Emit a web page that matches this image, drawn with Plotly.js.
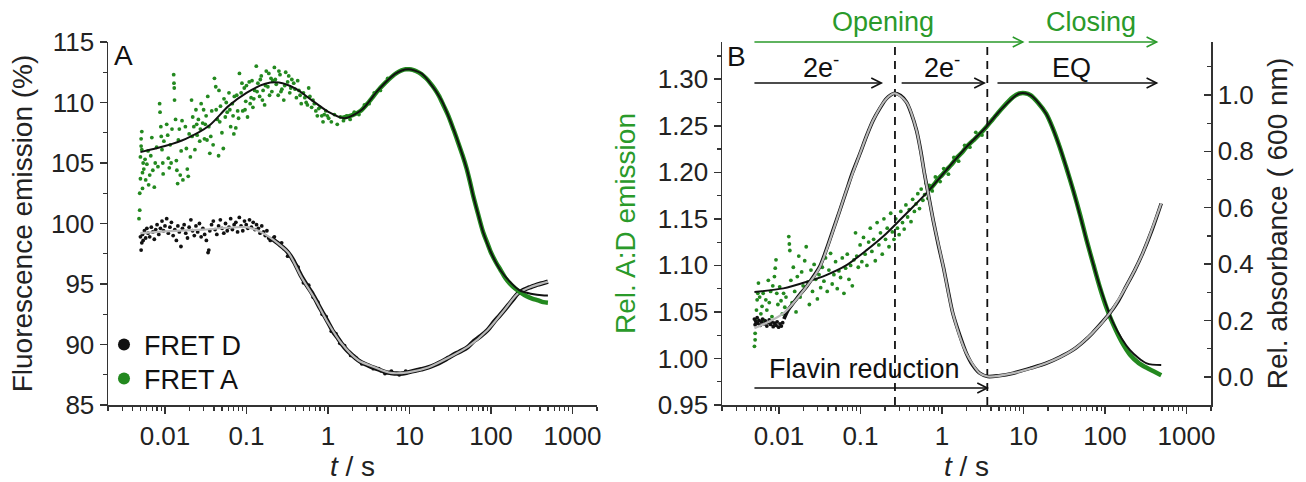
<!DOCTYPE html>
<html><head><meta charset="utf-8">
<script src="https://cdn.plot.ly/plotly-3.0.1.min.js"></script>
<style>html,body{margin:0;padding:0;background:#fff}#chart{width:1306px;height:482px}</style>
</head><body><div id="chart"></div>
<script>
// ---------- DATA (t in s) ----------
// Panel A: FRET A (acceptor) emission, %, noisy early part
const fretA_early = [
[0.0048,100.4],[0.0049,101.1],[0.0049,102.5],[0.0050,103.7],[0.0050,105.5],[0.0051,106.4],[0.0051,107.0],[0.0052,107.6],[0.0052,106.1],[0.0053,104.2],[0.0053,102.9],[0.0054,105.0],
[0.0055,104.5],[0.0057,105.3],[0.0058,103.6],[0.0060,104.9],[0.0062,106.0],[0.0063,103.2],[0.0065,104.0],[0.0067,105.6],[0.0069,107.1],[0.0071,104.4],[0.0074,103.0],[0.0076,105.0],[0.0079,106.3],[0.0082,104.7],
[0.0086,109.9],[0.0087,109.2],[0.0089,108.0],[0.0090,107.2],[0.0092,106.1],[0.0094,105.0],[0.0095,104.1],[0.0097,106.8],
[0.0105,108.2],[0.0108,107.3],[0.0110,105.4],[0.0113,104.6],[0.0116,106.5],[0.0119,105.0],[0.0122,107.8],
[0.0128,112.3],[0.0129,111.6],[0.0130,111.2],[0.0131,110.2],
[0.0135,108.6],[0.0138,105.2],[0.0140,104.4],[0.0143,103.3],[0.0146,106.9],[0.0150,107.8],[0.0154,104.0],[0.0158,106.0],[0.0162,108.5],[0.0166,103.6],
[0.0178,108.0],[0.0183,106.2],[0.0188,104.5],[0.0193,103.9],[0.0198,107.4],[0.0205,105.5],
[0.0212,110.2],[0.0219,108.8],[0.0226,108.0],[0.0233,106.1],[0.0240,109.4],[0.0248,107.3],[0.0257,108.6],[0.0267,106.8],[0.0278,109.9],[0.0290,108.3],[0.0305,107.0],[0.0320,108.9],
[0.0215,107.2],[0.0245,108.2],[0.0272,107.8],[0.0298,109.4],[0.0312,108.2],[0.0328,106.9],
[0.0335,110.5],[0.0345,108.0],[0.0355,105.8],[0.0365,107.2],[0.0375,109.3],[0.0390,106.5],[0.0405,112.0],[0.0420,111.3],[0.0440,108.6],[0.0425,109.4],
[0.0455,105.6],[0.046,111.0],[0.048,109.7],[0.050,107.5],[0.052,106.2],[0.053,110.3],[0.055,108.8],[0.058,109.2],[0.061,110.8],[0.064,108.0],[0.067,109.9],[0.070,107.4],[0.071,110.5],[0.074,107.9],[0.078,109.3],
[0.047,108.4],[0.0565,110.0],[0.0625,109.4],[0.0685,108.9],[0.076,110.6],[0.080,108.7],
[0.082,112.4],[0.086,110.8],[0.090,109.3],[0.094,111.2],[0.098,110.1],[0.103,108.8],[0.108,111.7],[0.114,110.4],[0.120,109.6],[0.126,111.0],
[0.088,111.6],[0.096,109.4],[0.100,111.4],[0.111,109.9],[0.117,111.8],[0.123,110.3],
[0.132,113.0],[0.138,111.6],[0.145,110.5],[0.152,112.2],[0.160,111.0],[0.167,109.8],[0.175,112.6],[0.183,111.3],[0.192,110.6],[0.200,112.0],[0.210,111.8],
[0.135,110.9],[0.148,111.9],[0.157,110.2],[0.171,111.4],[0.188,112.4],[0.205,110.9],
[0.220,112.9],[0.232,111.5],[0.245,110.6],[0.258,112.3],[0.272,111.1],[0.287,110.2],[0.303,112.5],[0.320,111.7],[0.340,110.8],[0.360,111.9],
[0.226,111.9],[0.250,112.6],[0.265,110.9],[0.295,111.4],[0.330,112.2],[0.350,111.2],
[0.38,111.6],[0.41,110.4],[0.44,111.0],[0.47,109.9],[0.50,110.8],[0.54,110.0],[0.58,111.2],[0.63,109.6],
[0.395,111.1],[0.425,111.8],[0.455,110.6],[0.52,110.4],[0.56,109.8],[0.60,110.5],[0.655,110.2],
[0.68,109.9],[0.74,108.9],[0.80,109.6],[0.87,108.4],[0.94,109.3],[1.02,108.7],
[0.71,109.3],[0.77,109.5],[0.84,108.9],[0.90,109.0],[0.98,108.9],
[1.10,108.4],[1.20,109.0],[1.30,108.2],[1.42,108.8],[1.55,108.5],[1.70,108.9],[1.87,108.6],
[2.1,109.2],[2.4,109.0],[2.8,109.8],[3.2,109.9],[3.7,110.8],[4.4,111.0],[5.4,112.0]
];
// FRET A, later (low-noise) part
const fretA_late = [
[1.5,108.72],[2.0,108.95],[2.5,109.3],[3.0,109.85],[3.5,110.4],[4.0,110.9],[5.0,111.6],[6.0,112.1],[7.0,112.45],[8.0,112.65],[9.0,112.75],[10,112.75],[11,112.7],[12,112.6],[14,112.35],[16,112.0],[18,111.6],[20,111.2],[23,110.55],[26,109.8],[30,108.9],[35,107.7],[40,106.6],[45,105.6],[50,104.6],[55,103.5],[60,102.4],[70,100.7],[80,99.3],[90,98.4],[100,97.6],[115,96.8],[130,96.2],[150,95.5],[170,95.05],[200,94.6],[230,94.3],[270,94.0],[320,93.8],[380,93.65],[440,93.5],[500,93.45]
];
// FRET A fit
const fitA = [
[0.005,105.9],[0.01,106.4],[0.018,107.0],[0.035,108.1],[0.06,109.7],[0.1,110.8],[0.17,111.55],[0.25,111.65],[0.4,111.15],[0.63,110.2],[1.0,109.25],[1.6,108.7],[2.6,109.4],[4.1,111.0],[6.6,112.35],[9.6,112.75],[14,112.4],[17,111.8],[24.6,110.2],[36,107.5],[45,105.6],[52,104.2],[60,102.4],[70,100.7],[80,99.3],[100,97.6],[132,96.1],[176,95.1],[222,94.5],[307,94.2],[450,94.05],[500,94.05]
];
// Panel A: FRET D (donor) emission, %, noisy points
const fretD_early = [
[0.0050,98.9],[0.0051,97.8],[0.0052,98.4],[0.0053,99.1],[0.0054,98.6],[0.0056,99.4],[0.0058,98.8],[0.0060,99.6],[0.0062,99.2],[0.0065,98.9],
[0.0068,99.7],[0.0071,99.3],[0.0074,98.7],[0.0077,99.5],[0.0080,99.9],[0.0084,99.1],[0.0088,99.6],[0.0092,100.2],[0.0096,99.4],[0.0100,99.8],
[0.0105,100.4],[0.0110,99.2],[0.0115,99.7],[0.0120,100.1],[0.0126,99.0],[0.0132,99.5],[0.0138,98.6],[0.0144,99.8],[0.0150,99.3],[0.0157,98.1],
[0.0164,99.6],[0.0172,99.9],[0.0180,99.2],[0.0189,98.8],[0.0198,99.7],[0.0208,100.3],[0.0218,99.4],[0.0229,99.0],[0.0240,99.8],[0.0252,99.3],
[0.0265,100.0],[0.0278,98.9],[0.0292,99.6],[0.0307,99.1],[0.0322,98.6],[0.0338,97.6],[0.0345,97.8],[0.0355,99.4],[0.0373,99.9],[0.0392,100.2],
[0.0412,99.5],[0.0433,99.1],[0.0455,99.8],[0.0478,100.3],[0.0502,99.6],[0.0527,99.2],[0.0553,100.0],[0.0581,99.4],[0.0610,99.7],[0.0640,100.4],
[0.0672,99.5],[0.0706,99.9],[0.0741,100.1],[0.0778,99.3],[0.0817,100.5],[0.0858,99.8],[0.0901,99.4],[0.0946,100.2],[0.0993,99.9],[0.104,99.6],
[0.109,100.3],[0.115,99.7],[0.121,100.1],[0.127,99.5],[0.133,99.9],[0.140,99.6],[0.147,99.2],[0.154,99.8],[0.162,99.3],[0.170,99.0],
[0.178,99.4],[0.187,98.8],[0.196,98.6],
[0.22,98.9],[0.27,98.4],[0.32,97.3],[0.38,96.9],[0.43,96.4],[0.50,95.1],[0.58,94.9],[0.66,93.9],[0.75,93.5],[0.85,92.5],[0.95,92.3],[1.1,91.1],[1.25,90.9],[1.4,90.1],[1.6,89.9],[1.9,89.1],[2.2,88.9],[2.6,88.4],[3.1,88.3],[3.6,88.0],[4.2,88.0],[5.0,87.6],[6.0,87.8],[7.5,87.5],[9.0,87.8]
];
// FRET D, later part
const fretD_late = [
[0.2,98.8],[0.25,98.3],[0.3,97.85],[0.35,97.3],[0.4,96.6],[0.47,95.65],[0.55,94.9],[0.63,94.3],[0.7,93.75],[0.8,93.0],[0.9,92.4],[1.0,91.85],[1.15,91.1],[1.3,90.6],[1.46,90.1],[1.7,89.55],[2.0,89.1],[2.35,88.7],[2.8,88.4],[3.3,88.2],[3.8,88.05],[4.5,87.85],[5.2,87.7],[5.9,87.65],[7,87.6],[8.2,87.6],[9.6,87.7],[12,87.85],[14,87.95],[17,88.1],[21,88.35],[25,88.6],[30,88.9],[37,89.25],[44,89.5],[52,89.8],[62,90.3],[75,90.7],[91,91.2],[110,91.9],[128,92.4],[146,92.85],[170,93.4],[190,93.8],[213,94.2],[250,94.5],[280,94.65],[307,94.75],[370,94.95],[448,95.1],[500,95.2]
];
// FRET D fit
const fitD = [
[0.005,99.2],[0.01,99.35],[0.03,99.5],[0.1,99.7],[0.14,99.4],[0.19,98.9],[0.25,98.3],[0.33,97.55],[0.47,95.6],[0.7,93.7],[1.0,91.8],[1.46,90.1],[2.35,88.7],[3.8,88.1],[5.9,87.65],[9.6,87.7],[17,88.1],[30,88.9],[52,89.8],[91,91.2],[146,92.85],[213,94.2],[307,94.75],[448,95.1],[500,95.2]
];
// Panel B: relative A:D emission ratio, noisy points
const ratio_early = [
[0.0050,1.013],[0.0051,1.020],[0.0051,1.027],[0.0052,1.041],[0.0053,1.052],[0.0054,1.063],[0.0055,1.070],[0.0056,1.081],
[0.0058,1.066],[0.0060,1.048],[0.0062,1.056],[0.0064,1.070],[0.0066,1.041],[0.0069,1.063],[0.0071,1.052],[0.0074,1.084],[0.0076,1.060],[0.0079,1.072],[0.0082,1.045],[0.0084,1.078],
[0.0088,1.088],[0.0090,1.097],[0.0092,1.106],[0.0094,1.070],[0.0097,1.058],
[0.0102,1.077],[0.0106,1.062],[0.0110,1.048],[0.0114,1.070],[0.0118,1.055],[0.0122,1.066],
[0.0132,1.131],[0.0134,1.123],[0.0136,1.116],
[0.0140,1.084],[0.0145,1.060],[0.0150,1.098],[0.0156,1.072],[0.0162,1.050],[0.0168,1.088],[0.0175,1.110],[0.0182,1.066],[0.0190,1.093],[0.0198,1.078],[0.0207,1.105],[0.0216,1.120],[0.0226,1.082],[0.0236,1.058],[0.0247,1.095],[0.0258,1.072],[0.0270,1.101],[0.0283,1.085],[0.0296,1.064],[0.0310,1.090],[0.0325,1.076],[0.0340,1.098],
[0.0356,1.083],[0.0373,1.108],[0.0391,1.072],[0.0410,1.095],[0.0430,1.113],[0.0450,1.080],[0.0472,1.090],[0.0495,1.104],[0.0519,1.075],[0.0544,1.094],[0.0570,1.087],[0.0598,1.108],[0.0627,1.070],[0.0657,1.097],[0.0689,1.112],[0.0722,1.085],[0.0757,1.100],[0.0794,1.078],[0.0832,1.106],
[0.087,1.135],
[0.090,1.110],[0.094,1.098],[0.099,1.122],[0.104,1.104],[0.109,1.130],[0.114,1.112],[0.120,1.100],[0.126,1.125],[0.132,1.140],[0.138,1.115],[0.145,1.128],[0.152,1.105],[0.160,1.146],[0.168,1.122],[0.176,1.135],[0.185,1.112],[0.194,1.150],[0.203,1.128],[0.213,1.140],[0.224,1.120],[0.235,1.156],[0.246,1.136],
[0.258,1.128],[0.271,1.150],[0.284,1.140],[0.298,1.133],[0.313,1.158],[0.328,1.146],[0.344,1.139],[0.361,1.165],[0.379,1.152],[0.397,1.160],[0.417,1.147],[0.437,1.171],[0.459,1.158],[0.481,1.166],[0.505,1.177],[0.530,1.161],[0.556,1.182],[0.583,1.170],[0.612,1.176],[0.642,1.188],[0.673,1.172],
[0.70,1.186],[0.76,1.180],[0.83,1.195],[0.95,1.190],[1.05,1.204],[1.2,1.198],[1.4,1.216],[1.6,1.212],[1.9,1.229],[2.2,1.227],[2.6,1.243],[3.1,1.240]
];
// A:D ratio, later part
const ratio_late = [
[0.7,1.181],[0.8,1.187],[0.9,1.193],[1.0,1.197],[1.13,1.2023],[1.3,1.208],[1.5,1.215],[1.75,1.221],[2.0,1.2273],[2.4,1.234],[2.9,1.241],[3.5,1.2488],[4.2,1.257],[5.2,1.2667],[6.5,1.276],[7.5,1.281],[8.9,1.2847],[10.5,1.285],[12.2,1.2828],[15,1.275],[19,1.263],[23,1.247],[27.8,1.2273],[33,1.207],[40.7,1.1808],[50,1.153],[59.5,1.1271],[72,1.101],[86.8,1.076],[105,1.054],[127,1.036],[160,1.018],[203,1.004],[260,0.995],[325,0.990],[400,0.986],[490,0.982]
];
// A:D ratio fit
const fitRatio = [
[0.005,1.0715],[0.0113,1.0753],[0.022,1.0824],[0.038,1.0896],[0.0675,1.1003],[0.119,1.1164],[0.208,1.1343],[0.366,1.1558],[0.64,1.1773],[1.13,1.2023],[2.0,1.2273],[3.5,1.2488],[5.2,1.2667],[8.9,1.2847],[12.2,1.2828],[19,1.263],[27.8,1.2273],[40.7,1.1808],[59.5,1.1271],[86.8,1.077],[127,1.0377],[203,1.009],[325,0.9948],[490,0.993]
];
// Panel B: relative absorbance at 600 nm, early part
const abs_early = [
[0.0050,0.205],[0.0051,0.185],[0.0052,0.196],[0.0054,0.210],[0.0055,0.190],[0.0057,0.200],[0.0059,0.183],[0.0061,0.195],[0.0063,0.205],[0.0066,0.188],[0.0068,0.198],[0.0071,0.180],
[0.0073,0.192],[0.0076,0.202],[0.0079,0.186],[0.0082,0.195],[0.0085,0.178],[0.0088,0.190],[0.0092,0.183],[0.0095,0.195],[0.0099,0.176],[0.0103,0.188],[0.0107,0.180],[0.0111,0.192]
];
// absorbance, later part
const abs_late = [
[0.0115,0.205],[0.013,0.238],[0.015,0.262],[0.018,0.292],[0.0218,0.32],[0.026,0.352],[0.0318,0.392],[0.038,0.45],[0.0463,0.522],[0.056,0.592],[0.0675,0.662],[0.08,0.725],[0.098,0.79],[0.12,0.858],[0.143,0.91],[0.175,0.955],[0.208,0.987],[0.235,1.0],[0.264,1.006],[0.31,0.998],[0.366,0.975],[0.42,0.935],[0.488,0.874],[0.55,0.80],[0.61,0.721],[0.69,0.638],[0.78,0.556],[0.9,0.47],[1.04,0.39],[1.2,0.30],[1.36,0.225],[1.65,0.148],[1.99,0.084],[2.4,0.04],[2.9,0.013],[3.65,0.001],[5,0.004],[7.5,0.013],[12,0.03],[19,0.048],[28,0.07],[40.7,0.096],[55,0.126],[70,0.155],[90,0.19],[114,0.225],[145,0.268],[181,0.32],[230,0.376],[290,0.438],[380,0.523],[490,0.615]
];
// absorbance fit
const fitAbs = [
[0.005,0.172],[0.0113,0.225],[0.0218,0.32],[0.0318,0.39],[0.0463,0.52],[0.0675,0.662],[0.098,0.79],[0.143,0.91],[0.208,0.987],[0.264,1.006],[0.366,0.975],[0.488,0.874],[0.61,0.721],[0.78,0.556],[1.04,0.39],[1.36,0.225],[1.99,0.084],[2.9,0.013],[3.65,0.001],[7.5,0.013],[19,0.048],[40.7,0.096],[70,0.155],[114,0.225],[181,0.32],[290,0.438],[490,0.615]
];
// phase boundaries (dashed lines), s
const phaseTimes = [0.265, 3.6];
// arrow intervals [start s, end s]
const greenArrows = [[0.005, 9.8], [11.6, 430]];
const blackArrows = [[0.005, 0.18], [0.32, 3.3], [4.8, 430]];
const flavinArrow = [0.005, 3.6];
const xTickVals = [0.01, 0.1, 1, 10, 100, 1000];
const xTickText = ['0.01', '0.1', '1', '10', '100', '1000'];

// ---------- helpers ----------
const W = 1306, H = 482;
const GREEN = '#23891f', TXTG = '#2a9a2a', BLK = '#111', GREY = '#b9b9b9', AX = '#333';
const xs = a => a.map(p => p[0]), ys = a => a.map(p => p[1]);
const px = x => x / W, py = y => 1 - y / H;
const L10 = Math.log10;
const minorX = [];
for (let d = -3; d <= 3; d++) for (let k = 2; k <= 9; k++) { const v = k * Math.pow(10, d); if (v >= 0.002 && v <= 2000) minorX.push(+v.toPrecision(3)); }

const traces = [
  // panel A
  {x: xs(fretD_early), y: ys(fretD_early), xaxis:'x', yaxis:'y', mode:'markers', name:'FRET D', legend:'legend', marker:{color:BLK, size:3.8}},
  {x: xs(fretD_late), y: ys(fretD_late), xaxis:'x', yaxis:'y', mode:'lines', showlegend:false, line:{color:BLK, width:4.5, shape:'spline', smoothing:0.8}},
  {x: xs(fitD), y: ys(fitD), xaxis:'x', yaxis:'y', mode:'lines', showlegend:false, line:{color:GREY, width:2.2, shape:'spline', smoothing:0.8}},
  {x: xs(fretA_early), y: ys(fretA_early), xaxis:'x', yaxis:'y', mode:'markers', name:'FRET A', legend:'legend2', marker:{color:GREEN, size:3.8}},
  {x: xs(fretA_late), y: ys(fretA_late), xaxis:'x', yaxis:'y', mode:'lines', showlegend:false, line:{color:GREEN, width:4.5, shape:'spline', smoothing:0.8}},
  {x: xs(fitA), y: ys(fitA), xaxis:'x', yaxis:'y', mode:'lines', showlegend:false, line:{color:BLK, width:2, shape:'spline', smoothing:0.8}},
  // panel B
  {x: xs(ratio_early), y: ys(ratio_early), xaxis:'x2', yaxis:'y2', mode:'markers', showlegend:false, marker:{color:GREEN, size:3.8}},
  {x: xs(ratio_late), y: ys(ratio_late), xaxis:'x2', yaxis:'y2', mode:'lines', showlegend:false, line:{color:GREEN, width:4.5, shape:'spline', smoothing:0.8}},
  {x: xs(fitRatio), y: ys(fitRatio), xaxis:'x2', yaxis:'y2', mode:'lines', showlegend:false, line:{color:BLK, width:2, shape:'spline', smoothing:0.8}},
  {x: xs(abs_early), y: ys(abs_early), xaxis:'x2', yaxis:'y3', mode:'markers', showlegend:false, marker:{color:BLK, size:3.8}},
  {x: xs(abs_late), y: ys(abs_late), xaxis:'x2', yaxis:'y3', mode:'lines', showlegend:false, line:{color:BLK, width:3.6, shape:'spline', smoothing:0.8}},
  {x: xs(fitAbs), y: ys(fitAbs), xaxis:'x2', yaxis:'y3', mode:'lines', showlegend:false, line:{color:GREY, width:2.2, shape:'spline', smoothing:0.8}}
];
phaseTimes.forEach(t => traces.push({x:[t, t], y:[0.95, 1.34], xaxis:'x2', yaxis:'y2', mode:'lines', showlegend:false, line:{color:BLK, width:1.8, dash:'8px,6px'}}));

const FAM = 'Liberation Sans, Arial, sans-serif';
const tickFont = {family:FAM, size:26, color:'#222'};
const titleFont = {family:FAM, size:28, color:'#222'};
const xBase = {
  type:'log', range:[L10(0.002), L10(2000)], tickmode:'array', tickvals:xTickVals, ticktext:xTickText,
  showline:true, linecolor:AX, linewidth:1.5, ticks:'outside', ticklen:7, tickwidth:1.5, tickcolor:AX,
  minor:{tickmode:'array', tickvals:minorX, ticks:'outside', ticklen:4, tickwidth:1.2, tickcolor:AX},
  showgrid:false, zeroline:false, tickfont:tickFont,
  title:{text:'<i>t</i> / s', font:titleFont, standoff:4}
};
const yDom = [1 - 405 / H, 1 - 42 / H];
const legBase = {xanchor:'left', yanchor:'middle', bgcolor:'rgba(0,0,0,0)', borderwidth:0, font:{family:FAM, size:27, color:'#111'}, itemsizing:'constant'};
const layout = {
  width:W, height:H, margin:{l:0, r:0, t:0, b:0},
  paper_bgcolor:'#fff', plot_bgcolor:'rgba(0,0,0,0)',
  font:{family:FAM, size:26, color:'#222'},
  showlegend:true,
  legend: Object.assign({}, legBase, {x:px(104), y:py(345)}),
  legend2: Object.assign({}, legBase, {x:px(104), y:py(379)}),
  xaxis: Object.assign({}, xBase, {domain:[px(108), px(597)], anchor:'y'}),
  xaxis2: Object.assign({}, xBase, {domain:[px(722), px(1211)], anchor:'y2'}),
  yaxis: {domain:yDom, anchor:'x', range:[85, 115], tick0:85, dtick:5,
    showline:true, linecolor:AX, linewidth:1.5, ticks:'outside', ticklen:7, tickwidth:1.5, tickcolor:AX,
    minor:{dtick:2.5, ticks:'outside', ticklen:4, tickwidth:1.2, tickcolor:AX},
    showgrid:false, zeroline:false, tickfont:tickFont,
    title:{text:'Fluorescence emission (%)', font:titleFont, standoff:10}},
  yaxis2: {domain:yDom, anchor:'x2', range:[0.95, 1.34], tick0:0.95, dtick:0.05, tickformat:'.2f',
    showline:true, linecolor:AX, linewidth:1.5, ticks:'outside', ticklen:7, tickwidth:1.5, tickcolor:AX,
    minor:{dtick:0.025, ticks:'outside', ticklen:4, tickwidth:1.2, tickcolor:AX},
    showgrid:false, zeroline:false, tickfont:tickFont,
    title:{text:'Rel. A:D emission', font:Object.assign({}, titleFont, {color:TXTG}), standoff:14}},
  yaxis3: {overlaying:'y2', side:'right', anchor:'x2', range:[-0.1, 1.188], tick0:0, dtick:0.2, tickformat:'.1f',
    showline:true, linecolor:AX, linewidth:1.5, ticks:'inside', ticklen:7, tickwidth:1.5, tickcolor:AX,
    minor:{dtick:0.1, ticks:'inside', ticklen:4, tickwidth:1.2, tickcolor:AX},
    showgrid:false, zeroline:false, tickfont:tickFont,
    title:{text:'Rel. absorbance ( 600 nm)', font:titleFont, standoff:14}},
  annotations: [],
  shapes: []
};
const txt = (text, x, y, opt) => Object.assign({text, xref:'paper', yref:'paper', x:px(x), y:py(y), xanchor:'center', yanchor:'middle', showarrow:false, font:{family:FAM, size:27, color:'#111'}}, opt || {});
layout.annotations.push(
  txt('A', 112, 55, {xanchor:'left', font:{family:FAM, size:28, color:'#111'}}),
  txt('B', 725, 56, {xanchor:'left', font:{family:FAM, size:28, color:'#111'}}),
  txt('Opening', 883, 22, {font:{family:FAM, size:27, color:TXTG}}),
  txt('Closing', 1091, 22, {font:{family:FAM, size:27, color:TXTG}}),
  txt('2e<sup>-</sup>', 821, 66),
  txt('2e<sup>-</sup>', 942, 66),
  txt('EQ', 1071, 68),
  txt('Flavin reduction', 864, 369)
);
// arrows as shapes: a line on the time axis plus an open chevron head (in pixels) at the end time
const addArrow = (seg, y, color) => {
  layout.shapes.push(
    {type:'line', xref:'x2', yref:'paper', x0:seg[0], x1:seg[1], y0:py(y), y1:py(y), line:{color:color, width:1.6}},
    {type:'path', xref:'x2', yref:'paper', xsizemode:'pixel', ysizemode:'pixel', xanchor:seg[1], yanchor:py(y),
     path:'M-10,-5L0,0L-10,5', line:{color:color, width:1.6}}
  );
};
greenArrows.forEach(s => addArrow(s, 42, TXTG));
blackArrows.forEach(s => addArrow(s, 83, BLK));
addArrow(flavinArrow, 388, BLK);
Plotly.newPlot('chart', traces, layout, {displayModeBar:false, staticPlot:true});
</script></body></html>
